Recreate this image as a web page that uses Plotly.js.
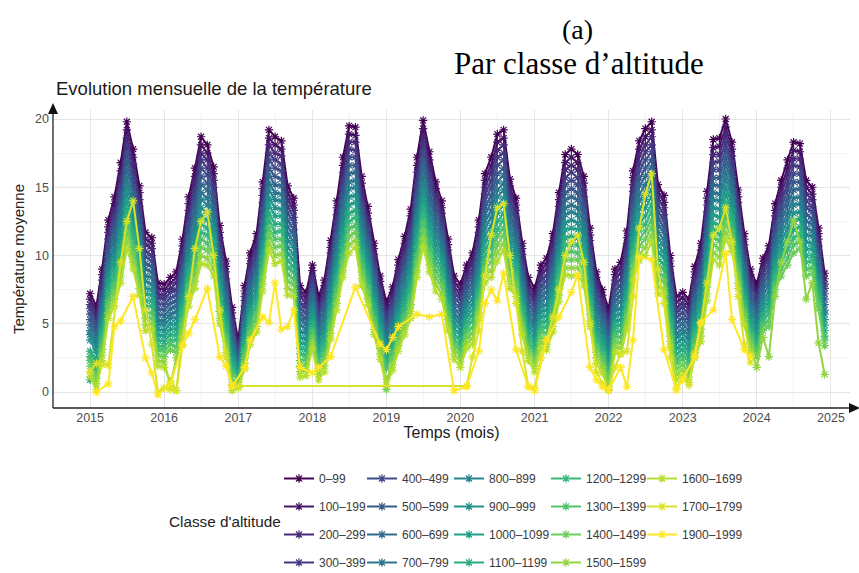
<!DOCTYPE html>
<html>
<head>
<meta charset="utf-8">
<script src="https://cdn.plot.ly/plotly-3.0.1.min.js"></script>
<style>html,body{margin:0;padding:0;background:#fff}#chart{width:859px;height:573px}</style>
</head>
<body>
<div id="chart"></div>
<script>
// ---- categories ----
const years = [2015,2016,2017,2018,2019,2020,2021,2022,2023,2024];
const monthNums = ['01','02','03','04','05','06','07','08','09','10','11','12'];
const classes = ['0–99','100–199','200–299','300–399','400–499','500–599','600–699','700–799','800–899','900–999','1000–1099','1100–1199','1200–1299','1300–1399','1400–1499','1500–1599','1600–1699','1700–1799','1900–1999'];
const yTicks = [0,5,10,15,20];

// ---- series (monthly mean temperature, Jan 2015 .. Dec 2024) ----
const c0_99 = [7.2,6.3,9.0,12.6,14.3,16.8,19.8,17.8,15.1,11.7,11.3,8.0, 7.9,8.4,8.8,11.2,14.3,16.4,18.7,18.1,16.5,12.2,9.6,6.2, 3.8,7.8,10.2,11.6,15.4,19.2,18.7,18.4,15.1,14.2,7.8,7.3, 9.3,7.0,8.2,11.1,14.0,17.2,19.5,19.4,15.8,13.6,10.9,8.5, 6.6,7.7,9.7,11.4,13.4,17.2,19.9,17.6,15.4,14.0,11.2,8.5, 7.9,9.3,10.2,12.6,16.0,17.2,18.9,19.2,15.6,14.2,10.9,8.4, 7.6,9.3,9.8,11.6,14.6,17.4,17.8,17.4,15.8,12.0,8.8,7.5, 6.1,9.0,9.5,11.8,16.2,18.4,19.3,19.8,15.2,14.4,10.0,7.0, 7.3,6.8,9.2,10.9,14.7,18.5,18.6,20.0,18.3,14.8,11.6,9.0, 7.9,9.8,10.7,13.8,15.5,17.0,18.3,18.2,15.5,15.0,12.0,8.7];
const c100_199 = [6.8,5.9,8.6,12.1,13.8,16.2,19.2,17.2,14.6,11.2,10.9,7.6, 7.5,8.0,8.4,10.7,13.8,15.8,18.1,17.5,16.0,11.7,9.2,5.8, 3.5,7.4,9.8,11.1,14.9,18.6,18.1,17.8,14.6,13.7,7.4,6.9, 8.9,6.6,7.8,10.6,13.5,16.6,18.9,18.8,15.3,13.1,10.5,8.1, 6.2,7.3,9.3,10.9,12.9,16.6,19.3,17.0,14.9,13.5,10.8,8.1, 7.5,8.9,9.8,12.1,15.5,16.6,18.3,18.6,15.1,13.7,10.5,8.0, 7.2,8.9,9.4,11.1,14.1,16.8,17.2,16.8,15.3,11.5,8.4,7.1, 5.7,8.6,9.1,11.3,15.7,17.8,18.7,19.2,14.7,13.9,9.6,6.6, 6.9,6.4,8.8,10.4,14.2,17.9,18.0,19.4,17.8,14.3,11.2,8.6, 7.5,9.4,10.3,13.3,15.0,16.4,17.7,17.6,15.0,14.5,11.6,8.3];
const c200_299 = [6.4,5.5,8.2,11.7,13.3,15.7,18.6,16.7,14.1,10.8,10.5,7.2, 7.1,7.6,8.0,10.3,13.3,15.3,17.5,17.0,15.5,11.3,8.8,5.4, 3.2,7.0,9.4,10.7,14.4,18.1,17.5,17.3,14.1,13.3,7.0,6.5, 8.5,6.2,7.4,10.2,13.0,16.1,18.3,18.3,14.8,12.7,10.1,7.7, 5.8,6.9,8.9,10.5,12.4,16.1,18.7,16.5,14.4,13.1,10.4,7.7, 7.1,8.5,9.4,11.7,15.0,16.1,17.7,18.1,14.6,13.3,10.1,7.6, 6.8,8.5,9.0,10.7,13.6,16.3,16.6,16.3,14.8,11.1,8.0,6.7, 5.3,8.2,8.7,10.9,15.2,17.3,18.1,18.7,14.2,13.5,9.2,6.2, 6.5,6.0,8.4,10.0,13.7,17.4,17.4,18.9,17.3,13.9,10.8,8.2, 7.1,9.0,9.9,12.9,14.5,15.9,17.1,17.1,14.5,14.1,11.2,7.9];
const c300_399 = [6.1,5.2,7.7,11.2,12.8,15.1,18.1,16.1,13.6,10.3,10.0,6.9, 6.8,7.3,7.5,9.8,12.8,14.7,17.0,16.4,15.0,10.8,8.3,5.1, 3.0,6.7,8.9,10.2,13.9,17.5,17.0,16.7,13.6,12.8,6.5,6.2, 8.2,5.9,6.9,9.7,12.5,15.5,17.8,17.7,14.3,12.2,9.6,7.4, 5.5,6.6,8.4,10.0,11.9,15.5,18.2,15.9,13.9,12.6,9.9,7.4, 6.8,8.2,8.9,11.2,14.5,15.5,17.2,17.5,14.1,12.8,9.6,7.3, 6.5,8.2,8.5,10.2,13.1,15.7,16.1,15.7,14.3,10.6,7.5,6.4, 5.0,7.9,8.2,10.4,14.7,16.7,17.6,18.1,13.7,13.0,8.7,5.9, 6.2,5.7,7.9,9.5,13.2,16.8,16.9,18.3,16.8,13.4,10.3,7.9, 6.8,8.7,9.4,12.4,14.0,15.3,16.6,16.5,14.0,13.6,10.7,7.6];
const c400_499 = [5.7,4.8,7.3,10.8,12.3,14.6,17.5,15.6,13.1,9.9,9.6,6.5, 6.4,6.9,7.1,9.4,12.3,14.2,16.4,15.9,14.5,10.4,7.9,4.7, 2.8,6.3,8.5,9.8,13.4,17.0,16.4,16.2,13.1,12.4,6.1,5.8, 7.8,5.5,6.5,9.3,12.0,15.0,17.2,17.2,13.8,11.8,9.2,7.0, 5.1,6.2,8.0,9.6,11.4,15.0,17.6,15.4,13.4,12.2,9.5,7.0, 6.4,7.8,8.5,10.8,14.0,15.0,16.6,17.0,13.6,12.4,9.2,6.9, 6.1,7.8,8.1,9.8,12.6,15.2,15.5,15.2,13.8,10.2,7.1,6.0, 4.6,7.5,7.8,10.0,14.2,16.2,17.0,17.6,13.2,12.6,8.3,5.5, 5.8,5.3,7.5,9.1,12.7,16.3,16.3,17.8,16.3,13.0,9.9,7.5, 6.4,8.3,9.0,12.0,13.5,14.8,16.0,16.0,13.5,13.2,10.3,7.2];
const c500_599 = [5.3,4.4,6.9,10.3,11.8,14.0,16.9,15.0,12.6,9.4,9.2,6.1, 6.0,6.5,6.7,8.9,11.8,13.6,15.8,15.3,14.0,9.9,7.5,4.3, 2.5,5.9,8.1,9.3,12.9,16.4,15.8,15.6,12.6,11.9,5.7,5.4, 7.4,5.1,6.1,8.8,11.5,14.4,16.6,16.6,13.3,11.3,8.8,6.6, 4.7,5.8,7.6,9.1,10.9,14.4,17.0,14.8,12.9,11.7,9.1,6.6, 6.0,7.4,8.1,10.3,13.5,14.4,16.0,16.4,13.1,11.9,8.8,6.5, 5.7,7.4,7.7,9.3,12.1,14.6,14.9,14.6,13.3,9.7,6.7,5.6, 4.2,7.1,7.4,9.5,13.7,15.6,16.4,17.0,12.7,12.1,7.9,5.1, 5.4,4.9,7.1,8.6,12.2,15.7,15.7,17.2,15.8,12.5,9.5,7.1, 6.0,7.9,8.6,11.5,13.0,14.2,15.4,15.4,13.0,12.7,9.9,6.8];
const c600_699 = [4.9,4.0,6.5,9.9,11.3,13.5,16.3,14.5,12.1,9.0,8.8,5.7, 5.6,6.1,6.3,8.5,11.3,13.1,15.2,14.8,13.5,9.5,7.1,3.9, 2.3,5.5,7.7,8.9,12.4,15.9,15.2,15.1,12.1,11.5,5.3,5.0, 7.0,4.7,5.7,8.4,11.0,13.9,16.0,16.1,12.8,10.9,8.4,6.2, 4.3,5.4,7.2,8.7,10.4,13.9,16.4,14.3,12.4,11.3,8.7,6.2, 5.6,7.0,7.7,9.9,13.0,13.9,15.4,15.9,12.6,11.5,8.4,6.1, 5.3,7.0,7.3,8.9,11.6,14.1,14.3,14.1,12.8,9.3,6.3,5.2, 3.8,6.7,7.0,9.1,13.2,15.1,15.8,16.5,12.2,11.7,7.5,4.7, 5.0,4.5,6.7,8.2,11.7,15.2,15.1,16.7,15.3,12.1,9.1,6.7, 5.6,7.5,8.2,11.1,12.5,13.7,14.8,14.9,12.5,12.3,9.5,6.4];
const c700_799 = [4.5,3.6,6.1,9.4,10.8,12.9,15.7,13.9,11.6,8.5,8.4,5.3, 5.2,5.7,5.9,8.0,10.8,12.5,14.6,14.2,13.0,9.0,6.7,3.5, 2.1,5.1,7.3,8.4,11.9,15.3,14.6,14.5,11.6,11.0,4.9,4.6, 6.6,4.3,5.3,7.9,10.5,13.3,15.4,15.5,12.3,10.4,8.0,5.8, 3.9,5.0,6.8,8.2,9.9,13.3,15.8,13.7,11.9,10.8,8.3,5.8, 5.2,6.6,7.3,9.4,12.5,13.3,14.8,15.3,12.1,11.0,8.0,5.7, 4.9,6.6,6.9,8.4,11.1,13.5,13.7,13.5,12.3,8.8,5.9,4.8, 3.4,6.3,6.6,8.6,12.7,14.5,15.2,15.9,11.7,11.2,7.1,4.3, 4.6,4.1,6.3,7.7,11.2,14.6,14.5,16.1,14.8,11.6,8.7,6.3, 5.2,7.1,7.8,10.6,12.0,13.1,14.2,14.3,12.0,11.8,9.1,6.0];
const c800_899 = [4.2,3.3,5.6,9.0,10.3,12.4,15.2,13.4,11.1,8.1,7.9,5.0, 4.9,5.4,5.4,7.6,10.3,12.0,14.1,13.7,12.5,8.6,6.2,3.2, 1.9,4.8,6.8,8.0,11.4,14.8,14.1,14.0,11.1,10.6,4.4,4.3, 6.3,4.0,4.8,7.5,10.0,12.8,14.9,15.0,11.8,10.0,7.5,5.5, 3.6,4.7,6.3,7.8,9.4,12.8,15.3,13.2,11.4,10.4,7.8,5.5, 4.9,6.3,6.8,9.0,12.0,12.8,14.3,14.8,11.6,10.6,7.5,5.4, 4.6,6.3,6.4,8.0,10.6,13.0,13.2,13.0,11.8,8.4,5.4,4.5, 3.1,6.0,6.1,8.2,12.2,14.0,14.7,15.4,11.2,10.8,6.6,4.0, 4.3,3.8,5.8,7.3,10.7,14.1,14.0,15.6,14.3,11.2,8.2,6.0, 4.9,6.8,7.3,10.2,11.5,12.6,13.7,13.8,11.5,11.4,8.6,5.7];
const c900_999 = [3.8,2.9,5.2,8.5,9.8,11.8,14.6,12.8,10.6,7.6,7.5,4.6, 4.5,5.0,5.0,7.1,9.8,11.4,13.5,13.1,12.0,8.1,5.8,2.8, 1.7,4.4,6.4,7.5,10.9,14.2,13.5,13.4,10.6,10.1,4.0,3.9, 5.9,3.6,4.4,7.0,9.5,12.2,14.3,14.4,11.3,9.5,7.1,5.1, 3.2,4.3,5.9,7.3,8.9,12.2,14.7,12.6,10.9,9.9,7.4,5.1, 4.5,5.9,6.4,8.5,11.5,12.2,13.7,14.2,11.1,10.1,7.1,5.0, 4.2,5.9,6.0,7.5,10.1,12.4,12.6,12.4,11.3,7.9,5.0,4.1, 2.7,5.6,5.7,7.7,11.7,13.4,14.1,14.8,10.7,10.3,6.2,3.6, 3.9,3.4,5.4,6.8,10.2,13.5,13.4,15.0,13.8,10.7,7.8,5.6, 4.5,6.4,6.9,9.7,11.0,12.0,13.1,13.2,11.0,10.9,8.2,5.3];
const c1000_1099 = [0.9,2.5,4.8,8.1,9.3,11.3,14.0,12.3,10.1,7.2,7.1,4.2, 4.1,4.6,4.6,6.7,9.3,10.9,12.9,12.6,11.5,7.7,5.4,2.4, 1.5,4.0,6.0,7.1,10.4,13.7,12.9,12.9,10.1,9.7,3.6,3.5, 5.5,3.2,4.0,6.6,9.0,11.7,13.7,13.9,10.8,9.1,6.7,4.7, 2.8,3.9,5.5,6.9,8.4,11.7,14.1,12.1,10.4,9.5,7.0,4.7, 4.1,5.5,6.0,8.1,11.0,11.7,13.1,13.7,10.6,9.7,6.7,4.6, 3.8,5.5,5.6,7.1,9.6,11.9,12.0,11.9,10.8,7.5,4.6,3.7, 2.3,5.2,5.3,7.3,11.2,12.9,13.5,14.3,10.2,9.9,5.8,3.2, 3.5,3.0,5.0,6.4,9.7,13.0,12.8,14.5,13.3,10.3,7.4,5.2, 4.1,6.0,6.5,9.3,10.5,11.5,12.5,12.7,10.5,10.5,7.8,4.9];
const c1100_1199 = [3.0,2.1,4.4,7.6,8.8,10.7,13.4,11.7,9.6,6.7,6.7,3.8, 3.7,4.2,4.2,6.2,8.8,10.3,12.3,12.0,11.0,7.2,5.0,2.0, 1.3,3.6,5.6,6.6,9.9,13.1,12.3,12.3,9.6,9.2,3.2,3.1, 5.1,2.8,3.6,6.1,8.5,11.1,13.1,13.3,10.3,8.6,6.3,4.3, 2.4,3.5,5.1,6.4,7.9,11.1,13.5,11.5,9.9,9.0,6.6,4.3, 3.7,5.1,5.6,7.6,10.5,11.1,12.5,13.1,10.1,9.2,6.3,4.2, 3.4,5.1,5.2,6.6,9.1,11.3,11.4,11.3,10.3,7.0,4.2,3.3, 1.9,4.8,4.9,6.8,10.7,12.3,12.9,13.7,9.7,9.4,5.4,2.8, 3.1,2.6,4.6,5.9,9.2,12.4,12.2,13.9,12.8,9.8,7.0,4.8, 3.7,5.6,6.1,8.8,10.0,10.9,11.9,12.1,10.0,10.0,7.4,4.5];
const c1200_1299 = [2.6,1.7,4.0,7.2,8.3,10.2,12.8,11.2,9.1,6.3,6.3,3.4, 3.3,3.8,3.8,5.8,8.3,9.8,11.7,11.5,10.5,6.8,4.6,1.6, 1.1,3.2,5.2,6.2,9.4,12.6,11.7,11.8,9.1,8.8,2.8,2.7, 4.7,2.4,3.2,5.7,8.0,10.6,12.5,12.8,9.8,8.2,5.9,3.9, 2.0,3.1,4.7,6.0,7.4,10.6,12.9,11.0,9.4,8.6,6.2,3.9, 3.3,4.7,5.2,7.2,10.0,10.6,11.9,12.6,9.6,8.8,5.9,3.8, 3.0,4.7,4.8,6.2,8.6,10.8,10.8,10.8,9.8,6.6,3.8,2.9, 1.5,4.4,4.5,6.4,10.2,11.8,12.3,13.2,9.2,9.0,5.0,2.4, 2.7,2.2,4.2,5.5,8.7,11.9,11.6,13.4,12.3,9.4,6.6,4.4, 3.3,5.2,5.7,8.4,9.5,10.4,11.3,11.6,9.5,9.6,7.0,4.1];
const c1300_1399 = [2.3,1.4,3.5,6.7,7.8,9.6,12.3,10.6,8.6,5.8,5.8,3.1, 3.0,3.5,3.3,5.3,7.8,9.2,11.2,10.9,10.0,6.3,4.1,1.3, 0.9,2.9,4.7,5.7,8.9,12.0,11.2,11.2,8.6,8.3,2.3,2.4, 4.4,2.1,2.7,5.2,7.5,10.0,12.0,12.2,9.3,7.7,5.4,3.6, 1.7,2.8,4.2,5.5,6.9,10.0,12.4,10.4,8.9,8.1,5.7,3.6, 3.0,4.4,4.7,6.7,9.5,10.0,11.4,12.0,9.1,8.3,5.4,3.5, 2.7,4.4,4.3,5.7,8.1,10.2,10.3,10.2,9.3,6.1,3.3,2.6, 1.2,4.1,4.0,5.9,9.7,11.2,11.8,12.6,8.7,8.5,4.5,2.1, 2.4,1.9,3.7,5.0,8.2,11.3,11.1,12.8,11.8,8.9,6.1,4.1, 3.0,4.9,5.2,7.9,9.0,9.8,10.8,11.0,9.0,9.1,6.5,3.8];
const c1400_1499 = [1.9,1.0,3.1,6.3,7.3,9.1,11.7,10.1,8.1,5.4,5.4,2.7, 2.6,3.1,2.9,4.9,7.3,8.7,10.6,10.4,9.5,5.9,3.7,0.9, 0.7,2.5,4.3,5.3,8.4,11.5,10.6,10.7,8.1,7.9,1.9,2.0, 4.0,1.7,2.3,4.8,7.0,9.5,11.4,11.7,8.8,7.3,5.0,3.2, 0.2,2.4,3.8,5.1,6.4,9.5,11.8,9.9,8.4,7.7,5.3,3.2, 2.6,4.0,4.3,6.3,9.0,9.5,10.8,11.5,8.6,7.9,5.0,3.1, 2.3,4.0,3.9,5.3,7.6,9.7,9.7,9.7,8.8,5.7,2.9,2.2, 0.8,3.7,3.6,5.5,9.2,10.7,11.2,12.1,8.2,8.1,4.1,1.7, 2.0,1.5,3.3,4.6,7.7,10.8,10.5,12.3,11.3,8.5,5.7,3.7, 2.6,4.5,4.8,7.5,8.5,9.3,10.2,10.5,8.5,8.7,6.1,3.4];
const c1500_1599 = [1.5,0.6,2.7,5.8,6.8,8.5,11.1,9.5,7.6,4.9,5.0,2.3, 2.2,0.5,2.5,4.4,6.8,8.1,10.0,9.8,9.0,5.4,3.3,0.5, 0.5,2.1,3.9,4.8,7.9,10.9,10.0,10.1,7.6,7.4,1.5,1.6, 3.6,1.3,1.9,4.3,6.5,8.9,10.8,11.1,8.3,6.8,4.6,2.8, 0.9,2.0,3.4,4.6,5.9,8.9,11.2,9.3,7.9,7.2,4.9,2.8, 2.2,3.6,3.9,5.8,8.5,8.9,10.2,10.9,8.1,7.4,4.6,2.7, 1.9,3.6,3.5,4.8,7.1,9.1,9.1,9.1,8.3,5.2,2.5,1.8, 0.4,3.3,3.2,5.0,8.7,10.1,10.6,11.5,7.7,7.6,3.7,1.3, 1.6,1.1,2.9,4.1,7.2,10.2,9.9,11.7,10.8,8.0,5.3,3.3, 1.8,4.0,2.6,7.0,9.5,11.0,12.6,11.0,6.8,8.0,3.6,1.3];
const c1600_1699 = [1.1,0.2,2.3,5.4,6.3,8.0,10.5,9.0,7.1,4.5,4.6,1.9, 1.8,0.8,0.1,4.0,6.3,7.6,9.4,9.3,8.5,5.0,2.9,0.1, 0.3,1.7,3.5,4.4,7.4,10.4,9.4,9.6,7.1,7.0,1.1,1.2, 3.2,0.9,1.5,3.9,6.0,8.4,10.2,10.6,7.8,6.4,4.2,2.4, 0.5,1.6,3.0,4.2,5.4,8.4,10.6,8.8,7.4,6.8,4.5,2.4, 1.8,3.2,3.5,5.4,8.0,8.4,9.6,10.4,7.6,7.0,4.2,2.3, 1.5,3.2,3.1,4.4,6.6,8.6,8.5,8.6,7.8,4.8,2.1,1.4, 0.1,2.9,2.8,4.6,8.2,9.6,10.0,11.0,7.2,7.2,3.3,0.9, 1.2,0.7,2.5,3.7,6.7,9.7,9.3,11.2,10.3,7.6,4.9,2.9, null,null,null,null,null,null,null,null,null,null,null,null];
const c1700_1799 = [1.5,2.1,2.0,2.0,null,9.5,12.5,14.0,10.5,6.0,3.5,0.0, 0.3,0.2,0.1,3.5,7.0,10.5,12.5,13.2,10.0,6.0,2.5,0.5, 0.45,null,null,null,null,null,null,null,null,null,null,null, null,null,null,null,null,null,null,null,null,null,null,null, null,null,null,null,null,null,null,null,null,null,null,null, null,0.45,2.6,4.5,8.5,11.5,13.5,13.8,10.0,6.5,3.0,0.4, 0.3,2.5,3.8,5.5,7.5,10.0,11.0,11.5,9.5,5.0,1.5,0.6, 0.2,1.8,2.8,3.0,7.0,12.0,14.5,16.0,9.0,6.5,2.5,0.3, 1.0,0.5,2.8,5.0,8.0,11.5,12.0,13.5,11.0,7.0,3.5,2.2, null,null,null,null,null,null,null,null,null,null,null,null];
const c1900_1999 = [null,0.0,null,0.6,4.8,5.2,null,7.0,null,2.5,1.4,-0.2, null,0.6,null,3.4,4.3,5.3,null,7.6,null,2.6,1.9,0.4, null,1.8,3.8,null,5.5,5.1,8.0,4.6,4.8,6.0,1.8,null, 1.4,1.8,null,2.6,null,null,null,7.7,null,null,null,3.5, 3.1,4.0,4.8,null,null,5.7,null,5.5,null,5.7,null,0.1, null,0.4,null,3.0,6.5,7.5,6.7,8.7,null,3.1,null,0.4, 0.1,null,3.8,null,5.5,null,7.3,8.6,null,1.8,0.9,0.4, 0.15,null,1.8,0.4,3.8,9.9,null,9.7,null,3.1,null,0.15, 0.9,null,2.6,5.1,null,6.0,null,10.2,5.3,null,3.1,2.6, null,null,null,null,null,null,null,null,null,null,null,null];

const series = [c0_99,c100_199,c200_299,c300_399,c400_499,c500_599,c600_699,c700_799,c800_899,c900_999,c1000_1099,c1100_1199,c1200_1299,c1300_1399,c1400_1499,c1500_1599,c1600_1699,c1700_1799,c1900_1999];
const colors = ['#440154','#461466','#482878','#433980','#3E4A89','#37598B','#31688E','#2B758E','#26828E','#21908C','#1F9E89','#2AAA81','#35B779','#51C269','#6DCD59','#90D542','#B4DE2C','#D8E228','#FDE725'];

const dates = [];
years.forEach(y => monthNums.forEach(m => dates.push(y + '-' + m + '-01')));

// ---- layout helpers (pixel -> paper) ----
const W = 859, H = 573, ML = 53, MR = 9, MT = 110, MB = 165;
const PW = W - ML - MR, PH = H - MT - MB;
const px = x => (x - ML) / PW;
const py = y => (H - MB - y) / PH;

const legendNames = ['legend','legend2','legend3','legend4','legend5'];
const traces = classes.map((c, i) => ({
  type: 'scatter', mode: 'lines+markers', x: dates, y: series[i], name: c,
  connectgaps: true,
  line: {color: colors[i], width: 2},
  marker: {symbol: 'asterisk-open', size: 7, color: colors[i], line: {color: colors[i], width: 1.2}},
  legend: legendNames[Math.floor(i / 4)], legendgroup: 'g' + i,
  hoverinfo: 'skip'
}));

const legCols = [300, 383, 470, 567, 663];
const legendBase = {orientation: 'v', xanchor: 'left', yanchor: 'top', bgcolor: 'rgba(0,0,0,0)',
  font: {family: 'Liberation Sans, Arial, sans-serif', size: 12, color: '#3a3a3a'}, tracegroupgap: 9, itemclick: false, itemdoubleclick: false};

const layout = {
  width: W, height: H,
  margin: {l: ML, r: MR, t: MT, b: MB, autoexpand: false},
  paper_bgcolor: '#fff', plot_bgcolor: '#fff',
  font: {family: 'Liberation Sans, Arial, sans-serif', color: '#333'},
  showlegend: true,
  xaxis: {
    type: 'date', range: ['2014-07-02', '2025-04-05'],
    tick0: '2015-01-01', dtick: 'M12', tickformat: '%Y',
    showgrid: true, gridcolor: '#e6e6e6', gridwidth: 1,
    minor: {dtick: 'M6', tick0: '2015-01-01', showgrid: true, gridcolor: '#f1f1f1', gridwidth: 0.8},
    showline: false, zeroline: false, ticks: '',
    tickfont: {size: 12.5, color: '#4d4d4d'},
    title: {text: 'Temps (mois)', font: {size: 16, color: '#222'}, standoff: 3},
    automargin: false, fixedrange: true
  },
  yaxis: {
    range: [-1.17, 20.66], tickvals: yTicks, ticktext: yTicks.map(String),
    showgrid: true, gridcolor: '#e6e6e6', gridwidth: 1,
    minor: {dtick: 2.5, tick0: 0, showgrid: true, gridcolor: '#f1f1f1', gridwidth: 0.8},
    showline: false, zeroline: false, ticks: '',
    tickfont: {size: 12.5, color: '#4d4d4d'}, ticklabelstandoff: 3,
    title: {text: 'Température moyenne', font: {size: 15, color: '#222'}, standoff: 6},
    automargin: false, fixedrange: true
  },
  shapes: [
    {type: 'line', xref: 'paper', yref: 'paper', x0: 0, x1: px(851), y0: 0, y1: 0, line: {color: '#222', width: 1.3}},
    {type: 'line', xref: 'paper', yref: 'paper', x0: 0, x1: 0, y0: 0, y1: py(112), line: {color: '#222', width: 1.3}},
    {type: 'path', xref: 'paper', yref: 'paper', fillcolor: '#111', line: {width: 0},
      path: `M ${px(48)},${py(114)} L ${px(53)},${py(103)} L ${px(58)},${py(114)} Z`},
    {type: 'path', xref: 'paper', yref: 'paper', fillcolor: '#111', line: {width: 0},
      path: `M ${px(849)},${py(403)} L ${px(860)},${py(408)} L ${px(849)},${py(413)} Z`}
  ],
  annotations: [
    {text: '(a)', xref: 'paper', yref: 'paper', x: px(577), y: py(30), xanchor: 'center', yanchor: 'middle', showarrow: false,
      font: {family: 'Liberation Serif, DejaVu Serif, serif', size: 28, color: '#000'}},
    {text: 'Par classe d’altitude', xref: 'paper', yref: 'paper', x: px(579), y: py(64), xanchor: 'center', yanchor: 'middle', showarrow: false,
      font: {family: 'Liberation Serif, DejaVu Serif, serif', size: 31, color: '#000'}},
    {text: 'Evolution mensuelle de la température', xref: 'paper', yref: 'paper', x: px(54), y: py(88), xanchor: 'left', yanchor: 'middle', showarrow: false,
      font: {size: 18.5, color: '#1a1a1a'}},
    {text: "Classe d'altitude", xref: 'paper', yref: 'paper', x: px(167), y: py(521), xanchor: 'left', yanchor: 'middle', showarrow: false,
      font: {size: 15.3, color: '#222'}}
  ]
};
legendNames.forEach((ln, j) => {
  layout[ln] = Object.assign({}, legendBase, {x: px(legCols[j] - 21), y: py(464)});
});

Plotly.newPlot('chart', traces, layout, {displayModeBar: false, staticPlot: true});
</script>
</body>
</html>
